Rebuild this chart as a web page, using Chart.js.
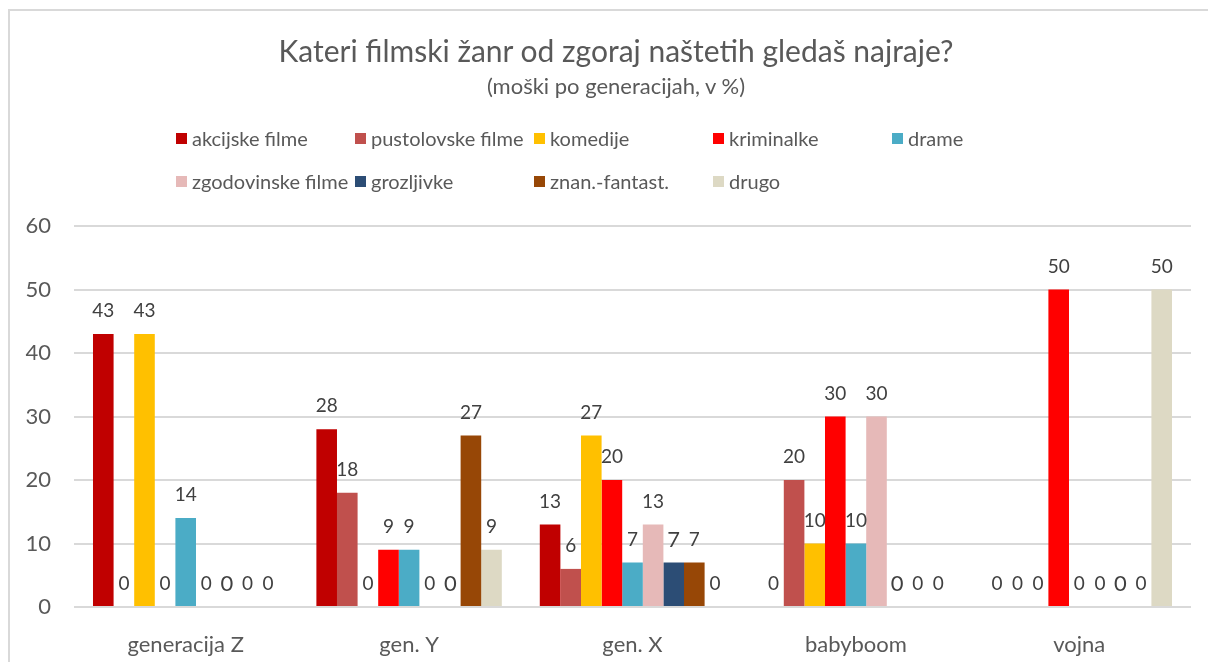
<!DOCTYPE html>
<html>
<head>
<meta charset="utf-8">
<script src="https://cdn.jsdelivr.net/npm/chart.js@4.4.1/dist/chart.umd.min.js"></script>
<style>
  html, body { margin: 0; padding: 0; background: #fff; overflow: hidden; }
  #wrap { position: relative; width: 1208px; height: 662px; overflow: hidden; }
  #frame { position: absolute; left: 8px; top: 9px; width: 1300px; height: 700px;
           border-top: 2px solid #d9d9d9; border-left: 2px solid #d9d9d9; }
  #chart { position: absolute; left: 0; top: 0; }
  .head { position: absolute; left: 0; width: 1232px; text-align: center;
          font-family: Lato, sans-serif; color: #595959; white-space: nowrap; }
  #title { top: 32px; font-size: 30px; line-height: 36px; }
  #subtitle { top: 73px; font-size: 22px; line-height: 26px; }
  #legend { position: absolute; left: 176px; top: 126px; display: grid;
            grid-template-columns: repeat(5, 179px); row-gap: 19px;
            font-family: Lato, sans-serif; font-size: 20px; color: #595959; }
  #legend .item { display: flex; align-items: center; height: 24px; white-space: nowrap; }
  #legend .box { width: 11px; height: 11px; margin-right: 5px; flex: none; }
</style>
</head>
<body>
<div id="wrap">
  <div id="frame"></div>
  <canvas id="chart" width="1208" height="662"></canvas>
  <div id="title" class="head">Kateri filmski žanr od zgoraj naštetih gledaš najraje?</div>
  <div id="subtitle" class="head">(moški po generacijah, v %)</div>
  <div id="legend"></div>
</div>
<script>
// Chart Variables
const categories = ['generacija Z', 'gen. Y', 'gen. X', 'babyboom', 'vojna'];
const seriesNames = ['akcijske filme', 'pustolovske filme', 'komedije', 'kriminalke', 'drame',
  'zgodovinske filme', 'grozljivke', 'znan.-fantast.', 'drugo'];
const seriesColors = ['#C00000', '#C0504D', '#FFC000', '#FF0000', '#4BACC6',
  '#E6B9B8', '#2C4D75', '#974706', '#DDD9C4'];

const akcijske = [43, 28, 13, 0, 0];
const pustolovske = [0, 18, 6, 20, 0];
const komedije = [43, 0, 27, 10, 0];
const kriminalke = [0, 9, 20, 30, 50];
const drame = [14, 9, 7, 10, 0];
const zgodovinske = [0, 0, 13, 30, 0];
const grozljivke = [0, 0, 7, 0, 0];
const znanFantast = [0, 27, 7, 0, 0];
const drugo = [0, 9, 0, 0, 50];

const yMin = 0;
const yMax = 60;
const yStep = 10;

const seriesValues = [akcijske, pustolovske, komedije, kriminalke, drame,
  zgodovinske, grozljivke, znanFantast, drugo];

const FONT = 'Lato, sans-serif';

// value labels above bars
const valueLabels = {
    id: 'valueLabels',
    afterDatasetsDraw(chart) {
        const ctx = chart.ctx;
        ctx.save();
        ctx.fillStyle = '#404040';
        ctx.textAlign = 'center';
        ctx.textBaseline = 'middle';
        chart.data.datasets.forEach((ds, i) => {
            const meta = chart.getDatasetMeta(i);
            ctx.font = (i === 6 ? '22px ' : '19px ') + FONT;
            meta.data.forEach((bar, j) => {
                ctx.fillText(String(ds.data[j]), bar.x, bar.y - 23);
            });
        });
        ctx.restore();
    }
};

// html legend with fixed columns
const htmlLegend = {
    id: 'htmlLegend',
    afterUpdate(chart) {
        const box = document.getElementById('legend');
        box.innerHTML = '';
        chart.data.datasets.forEach((ds) => {
            const item = document.createElement('div');
            item.className = 'item';
            const sw = document.createElement('span');
            sw.className = 'box';
            sw.style.background = ds.backgroundColor;
            const txt = document.createElement('span');
            txt.textContent = ds.label;
            item.appendChild(sw);
            item.appendChild(txt);
            box.appendChild(item);
        });
    }
};

new Chart(document.getElementById('chart'), {
    type: 'bar',
    data: {
        labels: categories,
        datasets: seriesNames.map((name, i) => ({
            label: name,
            data: seriesValues[i],
            backgroundColor: seriesColors[i],
            borderWidth: 0,
            categoryPercentage: 0.83,
            barPercentage: 1.0
        }))
    },
    options: {
        responsive: false,
        animation: false,
        layout: { padding: { left: 0, right: 17, top: 226, bottom: 0 } },
        plugins: {
            legend: { display: false },
            tooltip: { enabled: false },
            title: { display: false }
        },
        scales: {
            x: {
                grid: { display: false },
                border: { display: false },
                ticks: { color: '#595959', font: { family: FONT, size: 22 }, padding: 17 },
                afterFit: (scale) => { scale.height = 55; }
            },
            y: {
                min: yMin,
                max: yMax,
                grid: { color: '#d9d9d9', lineWidth: 2, drawTicks: false },
                border: { display: false },
                ticks: { stepSize: yStep, color: '#595959', font: { family: FONT, size: 22 }, padding: 23 },
                afterFit: (scale) => { scale.width = 74; }
            }
        }
    },
    plugins: [valueLabels, htmlLegend]
});
</script>
</body>
</html>
